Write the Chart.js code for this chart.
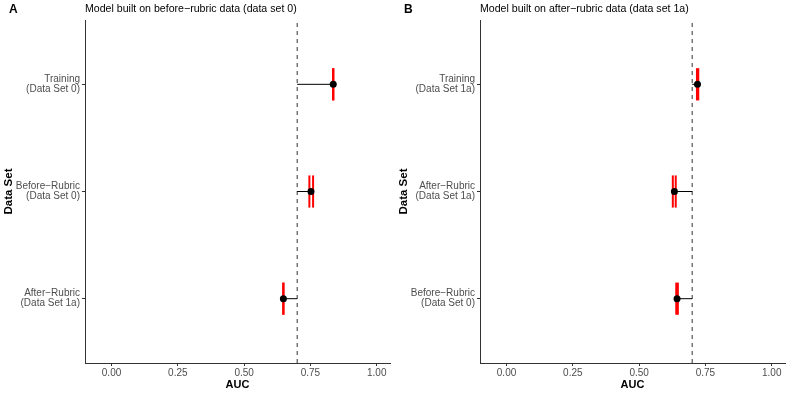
<!DOCTYPE html>
<html>
<head>
<meta charset="utf-8">
<script src="https://cdn.jsdelivr.net/npm/chart.js@4"></script>
<style>
  body { margin: 0; background: #fff; }
  .panel { position: absolute; top: 0; width: 394px; height: 395px; }
</style>
</head>
<body>
<div class="panel" style="left:0"><canvas id="chartA" width="394" height="395"></canvas></div>
<div class="panel" style="left:395px"><canvas id="chartB" width="394" height="395"></canvas></div>
<script>
const FONT = "'Liberation Sans', Arial, sans-serif";
const xTicks = [0, 0.25, 0.5, 0.75, 1];
const threshold = 0.7; // dashed reference line

// Panel A: model built on before-rubric data
const titleA = 'Model built on before\u2212rubric data (data set 0)';
const catsA = ['Training\n(Data Set 0)', 'Before\u2212Rubric\n(Data Set 0)', 'After\u2212Rubric\n(Data Set 1a)'];
const aucA = [0.836, 0.752, 0.648];
const lowA = [0.835, 0.746, 0.647];
const highA = [0.837, 0.760, 0.649];

// Panel B: model built on after-rubric data
const titleB = 'Model built on after\u2212rubric data (data set 1a)';
const catsB = ['Training\n(Data Set 1a)', 'After\u2212Rubric\n(Data Set 1a)', 'Before\u2212Rubric\n(Data Set 0)'];
const aucB = [0.720, 0.633, 0.643];
const lowB = [0.718, 0.627, 0.640];
const highB = [0.723, 0.638, 0.646];

// draws the panel tag (A/B) and the panel title
const panelText = {
    id: 'panelText',
    afterDraw(chart, args, opts) {
        const ctx = chart.ctx;
        ctx.save();
        ctx.fillStyle = '#000';
        ctx.textBaseline = 'middle';
        ctx.textAlign = 'left';
        ctx.font = `bold 12px ${FONT}`;
        ctx.fillText(opts.tag, 9, 10);
        ctx.font = `10.6px ${FONT}`;
        ctx.fillText(opts.title, chart.chartArea.left, 9.5);
        ctx.restore();
    }
};

function buildDatasets(cats, auc, low, high) {
    const n = cats.length;
    const ds = [];
    ds.push({
        data: [{ x: threshold, y: 0.4 }, { x: threshold, y: n + 0.6 }],
        showLine: true, borderColor: '#333', borderWidth: 1, borderDash: [4, 4],
        pointRadius: 0, order: 4
    });
    cats.forEach((c, i) => {
        const y = n - i;
        // segment from threshold to the AUC
        ds.push({
            data: [{ x: threshold, y }, { x: auc[i], y }],
            showLine: true, borderColor: '#000', borderWidth: 1, pointRadius: 0, order: 3
        });
        // red CI ends
        [low[i], high[i]].forEach(v => ds.push({
            data: [{ x: v, y: y - 0.15 }, { x: v, y: y + 0.15 }],
            showLine: true, borderColor: '#FF0000', borderWidth: 2, pointRadius: 0, order: 2
        }));
    });
    ds.push({
        data: auc.map((v, i) => ({ x: v, y: n - i })),
        pointRadius: 3.5, backgroundColor: '#000', borderColor: '#000', borderWidth: 0, order: 1
    });
    return ds;
}

function makeChart(id, tag, title, cats, auc, low, high) {
    const n = cats.length;
    return new Chart(document.getElementById(id), {
        type: 'scatter',
        data: { datasets: buildDatasets(cats, auc, low, high) },
        plugins: [panelText],
        options: {
            responsive: false,
            animation: false,
            layout: { padding: { top: 20, right: 4, left: 0, bottom: 0 } },
            plugins: {
                legend: { display: false },
                tooltip: { enabled: false },
                panelText: { tag, title }
            },
            scales: {
                x: {
                    type: 'linear', min: -0.1, max: 1.05,
                    afterBuildTicks: s => { s.ticks = xTicks.map(v => ({ value: v })); },
                    afterFit: s => { s.height = 32; },
                    ticks: {
                        callback: v => Number(v).toFixed(2),
                        color: '#4D4D4D', font: { family: FONT, size: 10 },
                        padding: 1, maxRotation: 0, autoSkip: false
                    },
                    grid: { drawOnChartArea: false, tickLength: 3, color: '#333' },
                    border: { color: '#333', width: 1 },
                    title: {
                        display: true, text: 'AUC', color: '#000',
                        font: { family: FONT, size: 11, weight: 'bold' },
                        padding: { top: 0, bottom: 3 }
                    }
                },
                y: {
                    type: 'linear', min: 0.4, max: n + 0.6,
                    afterBuildTicks: s => { s.ticks = cats.map((c, i) => ({ value: i + 1 })); },
                    afterFit: s => { s.width = 85; },
                    ticks: {
                        callback: v => cats[n - Math.round(v)].split('\n'),
                        color: '#4D4D4D', font: { family: FONT, size: 10, lineHeight: 1.0 },
                        padding: 2, autoSkip: false
                    },
                    grid: { drawOnChartArea: false, tickLength: 3, color: '#333' },
                    border: { color: '#333', width: 1 },
                    title: {
                        display: true, text: 'Data Set', color: '#000',
                        font: { family: FONT, size: 11.5, weight: 'bold' },
                        padding: { top: 2, bottom: 0 }
                    }
                }
            }
        }
    });
}

makeChart('chartA', 'A', titleA, catsA, aucA, lowA, highA);
makeChart('chartB', 'B', titleB, catsB, aucB, lowB, highB);
</script>
</body>
</html>
